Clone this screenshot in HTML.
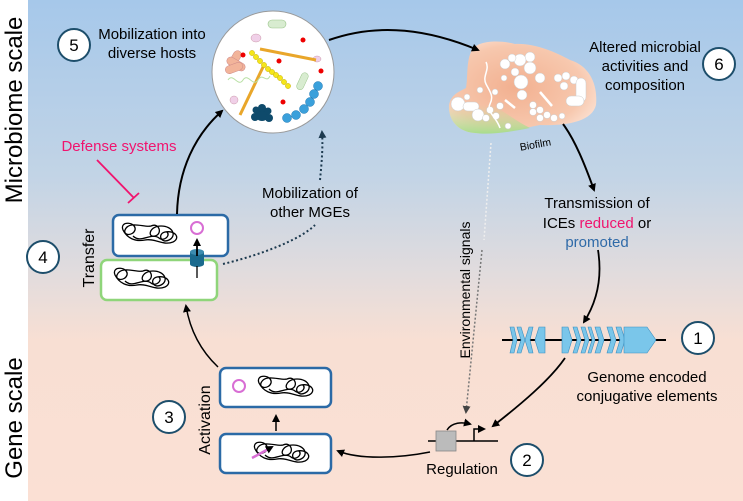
<!DOCTYPE html>
<html><head><meta charset="utf-8"><style>
html,body{margin:0;padding:0;background:#fff}
svg{display:block;font-family:"Liberation Sans",sans-serif}
</style></head><body>
<svg width="743" height="501" viewBox="0 0 743 501" xmlns="http://www.w3.org/2000/svg">
<defs>
<linearGradient id="bg" x1="0" y1="0" x2="0" y2="1">
<stop offset="0" stop-color="#a6c8ea"/>
<stop offset="0.35" stop-color="#c2d4e6"/>
<stop offset="0.55" stop-color="#e2dcdd"/>
<stop offset="0.68" stop-color="#f8dfd3"/>
<stop offset="1" stop-color="#fbe0d4"/>
</linearGradient>
<radialGradient id="bf" cx="0.45" cy="0.5" r="0.65">
<stop offset="0" stop-color="#f2b090"/>
<stop offset="0.7" stop-color="#f7c8ae"/>
<stop offset="1" stop-color="#fde6da"/>
</radialGradient>
<linearGradient id="bfg" x1="0" y1="0" x2="0" y2="1">
<stop offset="0.3" stop-color="#c8e0a0" stop-opacity="0"/>
<stop offset="1" stop-color="#a8dc8c"/>
</linearGradient>
<marker id="ah" markerWidth="8" markerHeight="8" refX="6" refY="4" orient="auto" markerUnits="userSpaceOnUse"><path d="M0,0 L8,4 L0,8 z" fill="#000"/></marker>
<marker id="ahd" markerWidth="8" markerHeight="8" refX="6" refY="4" orient="auto" markerUnits="userSpaceOnUse"><path d="M0,0 L8,4 L0,8 z" fill="#1d3a4f"/></marker>
<marker id="ahg" markerWidth="8" markerHeight="8" refX="6" refY="4" orient="auto" markerUnits="userSpaceOnUse"><path d="M0,0 L8,4 L0,8 z" fill="#444"/></marker>
<g id="coil" fill="none" stroke="#000" stroke-width="1.3">
<path d="M2,6 C-2,-4 16,-2 14,6 C12,12 2,12 4,6 C8,-4 24,4 30,2 C38,-2 42,10 34,12 C26,14 28,2 40,2 C52,2 56,12 48,16 C40,20 36,10 44,8 C54,6 60,14 52,18 C42,22 34,14 24,16 C14,18 6,14 2,6 Z"/>
<path d="M12,12 C20,20 30,8 38,14 C42,18 50,12 46,8"/>
</g>
</defs>
<rect x="0" y="0" width="743" height="501" fill="#fff"/>
<rect x="28" y="0" width="715" height="501" fill="url(#bg)"/>

<text transform="translate(22,110) rotate(-90)" font-size="24" text-anchor="middle" fill="#000">Microbiome scale</text>
<text transform="translate(22,418) rotate(-90)" font-size="24" text-anchor="middle" fill="#000">Gene scale</text>

<!-- numbered circles -->
<g fill="#fff" stroke="#1d4e6b" stroke-width="2">
<circle cx="74" cy="45" r="16"/><circle cx="719" cy="64" r="16"/>
<circle cx="43" cy="257" r="16"/><circle cx="169" cy="417" r="16"/>
<circle cx="527" cy="460" r="16"/><circle cx="698" cy="338" r="16"/>
</g>
<g font-size="17" text-anchor="middle" fill="#000">
<text x="74" y="51">5</text><text x="719" y="70">6</text><text x="43" y="263">4</text>
<text x="169" y="423">3</text><text x="527" y="466">2</text><text x="698" y="344">1</text>
</g>

<!-- texts -->
<g font-size="15" fill="#000" text-anchor="middle">
<text x="152" y="39">Mobilization into</text>
<text x="152" y="58">diverse hosts</text>
<text x="645" y="52">Altered microbial</text>
<text x="645" y="71">activities and</text>
<text x="645" y="90">composition</text>
<text x="310" y="198">Mobilization of</text>
<text x="310" y="217">other MGEs</text>
<text x="597" y="208">Transmission of</text>
<text x="597" y="228"><tspan>ICEs </tspan><tspan fill="#f0146e">reduced</tspan><tspan> or</tspan></text>
<text x="597" y="247" fill="#2f6aa8">promoted</text>
<text x="647" y="382">Genome encoded</text>
<text x="647" y="401">conjugative elements</text>
<text x="462" y="474">Regulation</text>
<text x="119" y="151" fill="#f0146e">Defense systems</text>
</g>
<text transform="translate(536,148) rotate(-10)" font-size="10.5" text-anchor="middle">Biofilm</text>
<text transform="translate(470,290) rotate(-90)" font-size="14" text-anchor="middle">Environmental signals</text>
<text transform="translate(94,258) rotate(-90)" font-size="16" text-anchor="middle">Transfer</text>
<text transform="translate(210,420) rotate(-90)" font-size="16" text-anchor="middle">Activation</text>

<!-- microbe circle -->
<circle cx="273" cy="72" r="61" fill="#fff" stroke="#999" stroke-width="1"/>
<g>
<rect x="268" y="20" width="18" height="8" rx="4" fill="#d8ecd0" stroke="#9ac48a" stroke-width=".6"/>
<ellipse cx="256" cy="38" rx="5" ry="4" fill="#f0d0e8" stroke="#c9a" stroke-width=".5"/>
<ellipse cx="234" cy="100" rx="4" ry="4" fill="#f0d0e8" stroke="#c9a" stroke-width=".5"/>
<ellipse cx="317" cy="59" rx="4" ry="3" fill="#f0d0e8" stroke="#c9a" stroke-width=".5"/>
<rect x="226" y="55" width="18" height="8" rx="4" transform="rotate(-60 235 59)" fill="#f2b49a" stroke="#c88" stroke-width=".5"/>
<rect x="226" y="60" width="20" height="8" rx="4" transform="rotate(30 236 64)" fill="#f2b49a" stroke="#c88" stroke-width=".5"/>
<rect x="225" y="64" width="18" height="8" rx="4" transform="rotate(-20 234 68)" fill="#f2b49a" stroke="#c88" stroke-width=".5"/>
<rect x="299" y="72" width="7" height="18" rx="3.5" transform="rotate(25 302 81)" fill="#d8ecd0" stroke="#9ac48a" stroke-width=".5"/>
<line x1="260" y1="49" x2="316" y2="60" stroke="#e9a62a" stroke-width="3"/>
<line x1="264" y1="65" x2="240" y2="115" stroke="#e9a62a" stroke-width="3"/>
<path d="M228,80 c5,-8 10,8 15,0 s10,8 15,0 s8,4 12,-4" stroke="#b8e0a4" fill="none" stroke-width="1"/>
<g fill="#f5e61a" stroke="#c8b000" stroke-width=".5">
<circle cx="252" cy="53" r="2.6"/><circle cx="256" cy="57" r="2.6"/><circle cx="260" cy="61" r="2.6"/><circle cx="264" cy="65" r="2.6"/><circle cx="268" cy="69" r="2.6"/><circle cx="272" cy="72" r="2.6"/><circle cx="276" cy="75" r="2.6"/><circle cx="280" cy="78" r="2.6"/><circle cx="284" cy="82" r="2.6"/><circle cx="288" cy="86" r="2.6"/>
</g>
<g fill="#e00">
<circle cx="243" cy="55" r="2.5"/><circle cx="279" cy="61" r="2.5"/><circle cx="303" cy="40" r="2.5"/><circle cx="321" cy="71" r="2.5"/><circle cx="283" cy="102" r="2.5"/>
</g>
<g fill="#3aa0db" stroke="#1f78b4" stroke-width=".5">
<circle cx="287" cy="118" r="4.5"/><circle cx="296" cy="115" r="4.5"/><circle cx="304" cy="109" r="4.5"/><circle cx="310" cy="102" r="4.5"/><circle cx="314" cy="94" r="4.5"/><circle cx="318" cy="86" r="4.5"/>
</g>
<g fill="#0e4a6b"><circle cx="262" cy="114" r="7"/><circle cx="255" cy="117" r="4"/><circle cx="269" cy="118" r="4"/><circle cx="262" cy="108" r="4"/><circle cx="268" cy="111" r="3.5"/><circle cx="256" cy="110" r="3.5"/></g>
</g>

<!-- biofilm -->
<path d="M472,50 C478,40 500,40 515,44 C535,43 555,52 570,60 C590,66 598,85 596,105 C592,122 565,126 540,125 C515,130 495,135 475,133 C458,132 448,120 449,105 C451,95 458,92 466,88 C468,78 466,60 472,50 Z" fill="url(#bf)"/>
<path d="M449,105 C451,95 458,92 468,92 C490,100 510,118 530,128 C510,132 490,135 475,133 C458,132 448,120 449,105 Z" fill="url(#bfg)"/>
<g fill="#fff" stroke="#ccc" stroke-width=".5">
<circle cx="458" cy="104" r="7"/><rect x="463" y="102" width="16" height="9" rx="4.5"/><circle cx="478" cy="115" r="6"/>
<circle cx="530" cy="57" r="5"/><circle cx="520" cy="60" r="6"/><circle cx="530" cy="68" r="6"/><circle cx="521" cy="82" r="7"/><circle cx="540" cy="78" r="5"/><circle cx="522" cy="95" r="5"/><circle cx="515" cy="72" r="4"/><circle cx="505" cy="64" r="5"/><circle cx="512" cy="58" r="4"/>
<circle cx="558" cy="78" r="4"/><circle cx="566" cy="76" r="4"/><circle cx="574" cy="80" r="4"/><circle cx="564" cy="86" r="4"/><rect x="576" y="78" width="10" height="24" rx="5"/><rect x="566" y="96" width="18" height="10" rx="5"/>
<circle cx="533" cy="105" r="3.5"/><circle cx="540" cy="110" r="3.5"/><circle cx="547" cy="115" r="3.5"/><circle cx="533" cy="112" r="3.5"/><circle cx="540" cy="118" r="3.5"/><circle cx="554" cy="118" r="3.5"/><circle cx="562" cy="116" r="3"/>
<circle cx="490" cy="110" r="3.5"/><circle cx="496" cy="116" r="3.5"/><circle cx="500" cy="106" r="3.5"/><circle cx="486" cy="118" r="3.5"/><circle cx="508" cy="126" r="3"/>
<circle cx="480" cy="90" r="3"/><circle cx="495" cy="92" r="3"/><circle cx="504" cy="78" r="3"/><circle cx="467" cy="97" r="3"/>
</g>
<path d="M486,62 c4,8 -4,14 0,22 s8,12 4,20 s6,12 10,24" stroke="#fff" fill="none" stroke-width="1.5"/>
<path d="M505,100 l10,8 M540,92 l12,14" stroke="#fff" stroke-width="2.5"/>

<!-- transfer boxes -->
<rect x="113" y="215" width="115" height="41" rx="6" fill="#fff" stroke="#2b6aa6" stroke-width="2.5"/>
<rect x="101" y="260" width="116" height="40" rx="6" fill="#fff" stroke="#8fd57a" stroke-width="2.5"/>
<use href="#coil" x="121" y="224"/>
<use href="#coil" x="113" y="269"/>
<circle cx="197" cy="228" r="6" fill="none" stroke="#d86ed4" stroke-width="2"/>
<path d="M190,252 v12 a7,3 0 0 0 14,0 v-12 z" fill="#1a6a8e"/>
<ellipse cx="197" cy="252" rx="7" ry="3" fill="#3c8cb0"/>
<line x1="197" y1="278" x2="197" y2="266" stroke="#000" stroke-width="1.3"/>
<line x1="197" y1="256" x2="197" y2="240" stroke="#000" stroke-width="1.8" marker-end="url(#ah)"/>

<!-- activation boxes -->
<rect x="220" y="368" width="111" height="39" rx="6" fill="#fff" stroke="#2b6aa6" stroke-width="2.5"/>
<rect x="220" y="434" width="111" height="39" rx="6" fill="#fff" stroke="#2b6aa6" stroke-width="2.5"/>
<circle cx="239" cy="386" r="6" fill="none" stroke="#d86ed4" stroke-width="2"/>
<use href="#coil" x="257" y="377"/>
<use href="#coil" x="253" y="443"/>
<line x1="252" y1="458" x2="272" y2="447" stroke="#d86ed4" stroke-width="2.5" marker-end="url(#ah)"/>
<line x1="276" y1="431" x2="276" y2="416" stroke="#000" stroke-width="1.5" marker-end="url(#ah)"/>

<!-- gene cluster -->
<line x1="502" y1="340" x2="666" y2="340" stroke="#000" stroke-width="2"/>
<g fill="#7ac6ea" stroke="#3a8fc0" stroke-width=".6">
<path d="M510,327 h4 l3,13 l-3,13 h-4 l3,-13 z"/>
<path d="M517,327 h4 l4,13 l-4,13 h-4 l4,-13 z"/>
<path d="M533,327 h-4 l-4,13 l4,13 h4 l-3,-13 z"/>
<path d="M545,327 h-6 l-4,13 l4,13 h6 z"/>
<path d="M562,327 h6 l4,13 l-4,13 h-6 z"/>
<path d="M573,327 h4 l4,13 l-4,13 h-4 l4,-13 z"/>
<path d="M581,327 h4 l4,13 l-4,13 h-4 l4,-13 z"/>
<path d="M588,327 h3 l4,13 l-4,13 h-3 l4,-13 z"/>
<path d="M595,327 h5 l4,13 l-4,13 h-5 l4,-13 z"/>
<path d="M607,327 h5 l4,13 l-4,13 h-5 l4,-13 z"/>
<path d="M616,327 h5 l4,13 l-4,13 h-5 l4,-13 z"/>
<path d="M624,327 h23 l9,13 l-9,13 h-23 z"/>
</g>

<!-- regulation -->
<line x1="428" y1="441" x2="498" y2="441" stroke="#000" stroke-width="1.5"/>
<rect x="436" y="431" width="20" height="20" fill="#bbb" stroke="#888" stroke-width=".8"/>
<path d="M474,441 v-12 h10" fill="none" stroke="#000" stroke-width="1.5" marker-end="url(#ah)"/>
<path d="M447,430 C452,422 462,422 470,424" fill="none" stroke="#000" stroke-width="1.5" marker-end="url(#ah)"/>

<!-- connectors -->
<path d="M329,40 C380,22 430,30 478,50" fill="none" stroke="#000" stroke-width="2" marker-end="url(#ah)"/>
<path d="M563,124 C575,140 585,165 594,190" fill="none" stroke="#000" stroke-width="2" marker-end="url(#ah)"/>
<path d="M598,250 C602,275 598,300 584,322" fill="none" stroke="#000" stroke-width="1.8" marker-end="url(#ah)"/>
<path d="M565,358 C550,380 520,405 493,426" fill="none" stroke="#000" stroke-width="1.8" marker-end="url(#ah)"/>
<path d="M491,143 L484,240" fill="none" stroke="#eee" stroke-width="1.5" stroke-dasharray="2,2"/>
<path d="M482,250 L466,412" fill="none" stroke="#777" stroke-width="1.5" stroke-dasharray="2,2" marker-end="url(#ahg)"/>
<path d="M430,452 C400,458 360,460 338,451" fill="none" stroke="#000" stroke-width="1.5" marker-end="url(#ah)"/>
<path d="M218,367 C200,350 190,330 186,306" fill="none" stroke="#000" stroke-width="1.5" marker-end="url(#ah)"/>
<path d="M177,214 C178,170 195,135 222,111" fill="none" stroke="#000" stroke-width="2" marker-end="url(#ah)"/>
<path d="M223,264 C260,255 300,240 315,225 M320,180 C322,160 323,145 322,132" fill="none" stroke="#1d3a4f" stroke-width="2" stroke-dasharray="2,2.5" marker-end="url(#ahd)"/>
<path d="M97,160 L134,198" stroke="#f0146e" stroke-width="1.8"/>
<path d="M128,203 L139,193" stroke="#f0146e" stroke-width="1.8"/>
</svg>
</body></html>
